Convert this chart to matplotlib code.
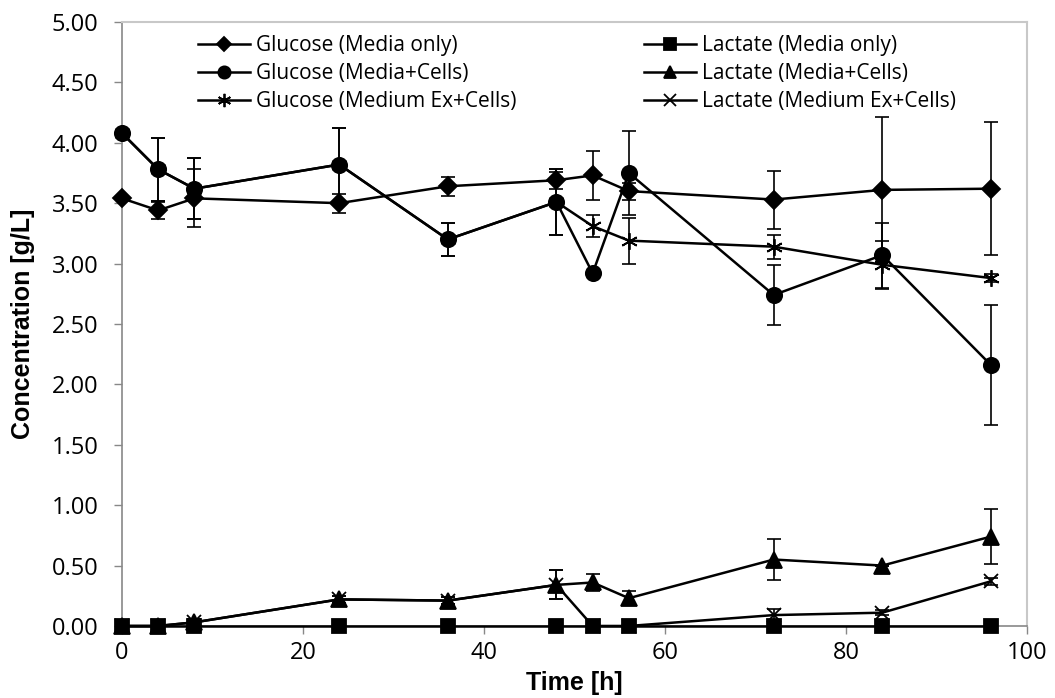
import matplotlib.pyplot as plt
from matplotlib.ticker import FormatStrFormatter

# sampling times [h]
time = [0, 4, 8, 24, 36, 48, 52, 56, 72, 84, 96]

# glucose [g/L]
glc_media = [3.54, 3.44, 3.54, 3.50, 3.64, 3.69, 3.73, 3.60, 3.53, 3.61, 3.62]
glc_media_err = [0.0, 0.07, 0.24, 0.08, 0.08, 0.07, 0.20, 0.07, 0.24, 0.60, 0.55]
glc_cells = [4.08, 3.78, 3.62, 3.82, 3.20, 3.51, 2.92, 3.75, 2.74, 3.07, 2.16]
glc_cells_err = [0.0, 0.26, 0.25, 0.30, 0.14, 0.27, 0.0, 0.35, 0.25, 0.27, 0.50]
glc_ex = [4.08, 3.78, 3.62, 3.82, 3.20, 3.51, 3.31, 3.19, 3.14, 2.99, 2.88]
glc_ex_err = [0.0, 0.26, 0.25, 0.30, 0.14, 0.27, 0.09, 0.19, 0.10, 0.20, 0.03]

# lactate [g/L]
lac_media = [0, 0, 0, 0, 0, 0, 0, 0, 0, 0, 0]
lac_media_err = [0, 0, 0, 0, 0, 0, 0, 0, 0, 0, 0]
lac_cells = [0.0, 0.0, 0.03, 0.22, 0.21, 0.34, 0.36, 0.23, 0.55, 0.50, 0.74]
lac_cells_err = [0.0, 0.0, 0.03, 0.03, 0.03, 0.12, 0.07, 0.06, 0.17, 0.0, 0.23]
lac_ex = [0.0, 0.0, 0.03, 0.22, 0.21, 0.34, 0.0, 0.0, 0.09, 0.11, 0.37]
lac_ex_err = [0.0, 0.0, 0.03, 0.03, 0.03, 0.12, 0.0, 0.0, 0.05, 0.02, 0.03]

series = [
    ("Glucose (Media only)", glc_media, glc_media_err, "D", 9),
    ("Glucose (Media+Cells)", glc_cells, glc_cells_err, "o", 11),
    ("Glucose (Medium Ex+Cells)", glc_ex, glc_ex_err, (6, 2, 0), 12),
    ("Lactate (Media only)", lac_media, lac_media_err, "s", 10),
    ("Lactate (Media+Cells)", lac_cells, lac_cells_err, "^", 11),
    ("Lactate (Medium Ex+Cells)", lac_ex, lac_ex_err, "x", 10),
]

fig = plt.figure(figsize=(10.55, 6.98), dpi=100)
ax = fig.add_axes([0.1156, 0.1032, 0.858, 0.8653])

handles = []
for label, vals, err, mk, ms in series:
    eb = ax.errorbar(time, vals, yerr=err, fmt="none", ecolor="black",
                     elinewidth=1.2, capsize=5, capthick=1.2, zorder=2)
    for art in eb.lines[1] + eb.lines[2]:
        art.set_clip_on(False)
    h, = ax.plot(time, vals, color="black", lw=1.8, marker=mk, markersize=ms,
                 markerfacecolor="black", markeredgecolor="black",
                 markeredgewidth=1.3, label=label, zorder=3, clip_on=False)
    handles.append(h)

ax.set_xlim(0, 100)
ax.set_ylim(0, 5)
ax.set_xticks([0, 20, 40, 60, 80, 100])
ax.set_yticks([0, 0.5, 1, 1.5, 2, 2.5, 3, 3.5, 4, 4.5, 5])
ax.yaxis.set_major_formatter(FormatStrFormatter("%.2f"))
ax.tick_params(direction="out", length=6, color="#888888", width=1,
               labelsize=17)
ax.tick_params(axis="y", pad=11)
ax.tick_params(axis="x", pad=5)
for lbl in ax.get_xticklabels() + ax.get_yticklabels():
    lbl.set_family("Open Sans")

for side in ["left", "bottom"]:
    ax.spines[side].set_color("#888888")
    ax.spines[side].set_linewidth(1.2)
for side in ["top", "right"]:
    ax.spines[side].set_color("#c8c8c8")
    ax.spines[side].set_linewidth(1.5)

ax.set_xlabel("Time [h]", fontsize=18, fontweight="bold",
              family="Liberation Sans", labelpad=4)
ax.set_ylabel("Concentration [g/L]", fontsize=18, fontweight="bold",
              family="Liberation Sans", labelpad=12)

ax.legend(handles=handles, ncol=2, frameon=False, loc="upper left",
          bbox_to_anchor=(0.084, 0.978), prop={"family": "Open Sans", "size": 15},
          handlelength=2.5, handletextpad=0.3, columnspacing=6.1,
          labelspacing=0.33, markerscale=0.8, borderpad=0, borderaxespad=0)

fig.savefig("out.png", dpi=100)
